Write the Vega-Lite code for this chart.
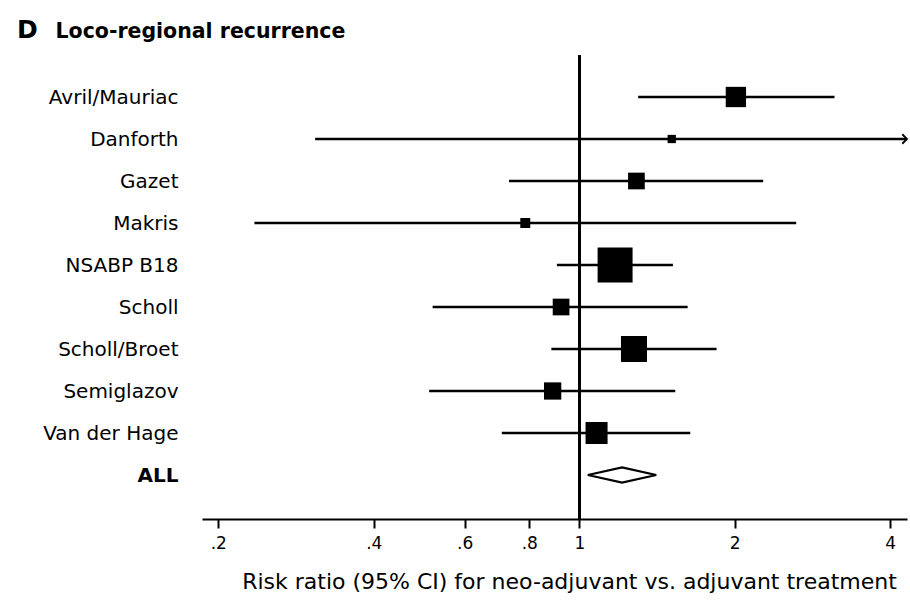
{
  "$schema": "https://vega.github.io/schema/vega-lite/v6.json",
  "width": 705,
  "height": 464,
  "autosize": {"type": "none"},
  "padding": {"left": 202, "top": 55, "right": 3, "bottom": 81},
  "background": "white",
  "title": {
    "text": "D",
    "anchor": "start",
    "frame": "group",
    "font": "DejaVu Sans",
    "fontSize": 25,
    "fontWeight": "bold",
    "color": "black",
    "baseline": "alphabetic",
    "offset": 0,
    "dx": -185,
    "dy": 42
  },
  "data": {
    "values": [
      {"study": "Avril/Mauriac", "kind": "study", "est": 2.01, "lo": 1.30, "hi": 3.12, "weight": 10.8},
      {"study": "Danforth", "kind": "study", "est": 1.51, "lo": 0.308, "hi": 6.0, "weight": 1.8},
      {"study": "Gazet", "kind": "study", "est": 1.29, "lo": 0.731, "hi": 2.27, "weight": 7.3},
      {"study": "Makris", "kind": "study", "est": 0.786, "lo": 0.235, "hi": 2.63, "weight": 2.6},
      {"study": "NSABP B18", "kind": "study", "est": 1.173, "lo": 0.905, "hi": 1.518, "weight": 32.0},
      {"study": "Scholl", "kind": "study", "est": 0.922, "lo": 0.520, "hi": 1.621, "weight": 7.3},
      {"study": "Scholl/Broet", "kind": "study", "est": 1.276, "lo": 0.883, "hi": 1.844, "weight": 17.7},
      {"study": "Semiglazov", "kind": "study", "est": 0.888, "lo": 0.512, "hi": 1.534, "weight": 7.8},
      {"study": "Van der Hage", "kind": "study", "est": 1.080, "lo": 0.708, "hi": 1.640, "weight": 12.7},
      {"study": "ALL", "kind": "pooled", "est": 1.21, "lo": 1.038, "hi": 1.408, "weight": null}
    ]
  },
  "encoding": {
    "y": {
      "field": "study",
      "type": "nominal",
      "sort": null,
      "scale": {"type": "point", "range": [42, 420], "padding": 0},
      "axis": {
        "title": "Loco-regional recurrence",
        "titleAngle": 0,
        "titleAlign": "left",
        "titleBaseline": "alphabetic",
        "titleX": -147,
        "titleY": -18,
        "titleFont": "DejaVu Sans",
        "titleFontSize": 20.5,
        "titleFontWeight": "bold",
        "titleColor": "black",
        "domain": false,
        "ticks": false,
        "tickSize": 0,
        "labelPadding": 24,
        "labelFont": "DejaVu Sans",
        "labelFontSize": 20,
        "labelColor": "black",
        "labelFontWeight": {"condition": {"test": "datum.value === 'ALL'", "value": "bold"}, "value": "normal"},
        "grid": false
      }
    }
  },
  "layer": [
    {
      "mark": {"type": "rule", "color": "black", "strokeWidth": 2.2},
      "encoding": {
        "x": {"datum": 1, "type": "quantitative"},
        "y": null
      }
    },
    {
      "transform": [{"filter": "datum.kind === 'study'"}],
      "mark": {"type": "rule", "color": "black", "strokeWidth": 2.5},
      "encoding": {
        "x": {
          "field": "lo",
          "type": "quantitative",
          "scale": {"type": "log", "domain": [0.186, 4.31], "nice": false, "clamp": true},
          "axis": {
            "title": "Risk ratio (95% CI) for neo-adjuvant vs. adjuvant treatment",
            "values": [0.2, 0.4, 0.6, 0.8, 1, 2, 4],
            "labelExpr": "datum.value < 1 ? substring(format(datum.value, '.1f'), 1) : format(datum.value, 'd')",
            "domainColor": "black",
            "domainWidth": 2.2,
            "tickColor": "black",
            "tickWidth": 2,
            "tickSize": 9,
            "labelPadding": 7,
            "labelFont": "DejaVu Sans",
            "labelFontSize": 17,
            "labelColor": "black",
            "labelFlush": false,
            "labelOverlap": false,
            "titleFont": "DejaVu Sans",
            "titleFontSize": 22,
            "titleFontWeight": "normal",
            "titleColor": "black",
            "titlePadding": 20,
            "titleX": 367,
            "grid": false
          }
        },
        "x2": {"field": "hi"}
      }
    },
    {
      "transform": [{"filter": "datum.kind === 'study'"}],
      "mark": {"type": "point", "shape": "square", "filled": true, "color": "black", "opacity": 1, "strokeWidth": 0},
      "encoding": {
        "x": {"field": "est", "type": "quantitative"},
        "size": {"field": "weight", "type": "quantitative", "scale": {"domain": [0, 100], "range": [0, 3823], "zero": true}, "legend": null}
      }
    },
    {
      "transform": [{"filter": "datum.kind === 'study' && datum.hi > 4.31"}],
      "mark": {"type": "point", "shape": "M-1,-1L0,0L-1,1", "filled": false, "color": "black", "opacity": 1, "strokeWidth": 1.8, "size": 90},
      "encoding": {
        "x": {"field": "hi", "type": "quantitative"}
      }
    },
    {
      "transform": [{"filter": "datum.kind === 'pooled'"}],
      "mark": {"type": "point", "shape": "M-1,0L0,-0.224L1,0L0,0.224Z", "filled": true, "fill": "white", "stroke": "black", "strokeWidth": 2.2, "opacity": 1, "size": 4679},
      "encoding": {
        "x": {"field": "est", "type": "quantitative"}
      }
    }
  ],
  "config": {
    "view": {"stroke": null},
    "font": "DejaVu Sans"
  }
}
